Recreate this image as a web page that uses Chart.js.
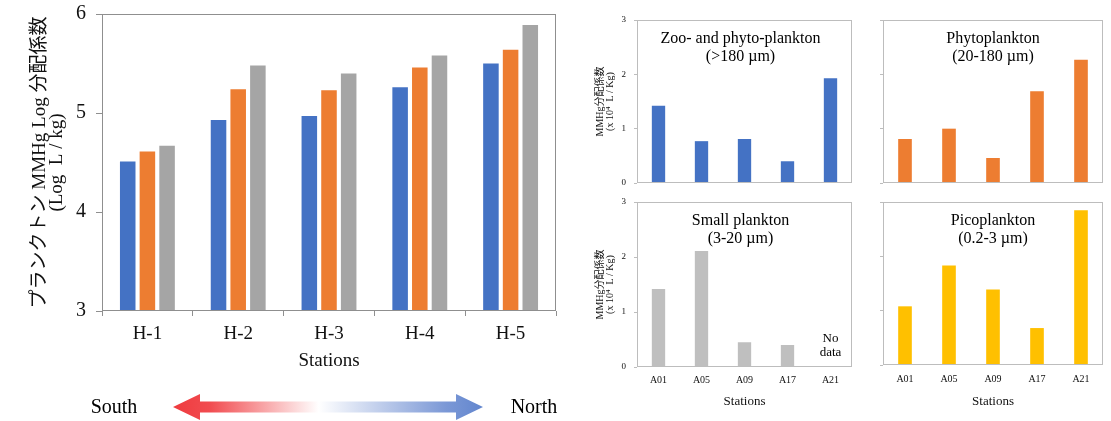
<!DOCTYPE html>
<html>
<head>
<meta charset="utf-8">
<script src="https://cdn.jsdelivr.net/npm/chart.js@4.4.1/dist/chart.umd.min.js"></script>
<style>
html,body{margin:0;padding:0;background:#fff;}
#root{position:relative;width:1111px;height:421px;overflow:hidden;background:#fff;}
.box{position:absolute;}
.lbl{position:absolute;font-family:'Liberation Serif','Times New Roman',serif;font-size:20px;color:#000;line-height:1;transform:translate(-50%,-50%);white-space:nowrap;}
svg{position:absolute;left:0;top:0;}
</style>
</head>
<body>
<div id="root">
  <div class="box" style="left:0;top:0;width:575px;height:375px"><canvas id="main"></canvas></div>
  <div class="box" style="left:580px;top:0;width:285px;height:195px"><canvas id="p1"></canvas></div>
  <div class="box" style="left:865px;top:0;width:246px;height:195px"><canvas id="p2"></canvas></div>
  <div class="box" style="left:580px;top:195px;width:285px;height:226px"><canvas id="p3"></canvas></div>
  <div class="box" style="left:865px;top:195px;width:246px;height:226px"><canvas id="p4"></canvas></div>
  <svg width="1111" height="421" viewBox="0 0 1111 421">
    <defs>
      <linearGradient id="ns" gradientUnits="userSpaceOnUse" x1="173" y1="0" x2="483" y2="0">
        <stop offset="0" stop-color="#EF3A3E"/>
        <stop offset="0.12" stop-color="#F14C50"/>
        <stop offset="0.47" stop-color="#FFFFFF"/>
        <stop offset="0.88" stop-color="#7B98D6"/>
        <stop offset="1" stop-color="#6286CE"/>
      </linearGradient>
    </defs>
    <path d="M173,407 L200,394 L200,401.5 L456,401.5 L456,394 L483,407 L456,420 L456,412.5 L200,412.5 L200,420 Z" fill="url(#ns)"/>
  </svg>
  <div class="lbl" style="left:114px;top:406px">South</div>
  <div class="lbl" style="left:534px;top:406px">North</div>
</div>
<script>
// ---- data ----
const stations = ['H-1', 'H-2', 'H-3', 'H-4', 'H-5'];
const blueSeries = [4.51, 4.93, 4.97, 5.26, 5.50];
const orangeSeries = [4.61, 5.24, 5.23, 5.46, 5.64];
const graySeries = [4.67, 5.48, 5.40, 5.58, 5.89];
const mainTicks = [3, 4, 5, 6];

const sites = ['A01', 'A05', 'A09', 'A17', 'A21'];
const zooPhyto = [1.42, 0.77, 0.81, 0.40, 1.93];
const phyto = [0.81, 1.00, 0.46, 1.69, 2.27];
const smallPl = [1.42, 2.11, 0.45, 0.40, null];
const picoPl = [1.08, 1.83, 1.39, 0.68, 2.85];
const panelTicks = [0, 1, 2, 3];

const mainYTitle = ['プランクトン MMHg Log 分配係数', '(Log  L / kg)'];
const panelYTitle = ['MMHg分配係数', '(x 10\u2074  L / Kg)'];
const titles = [
  ['Zoo- and phyto-plankton', '(>180 \u00B5m)'],
  ['Phytoplankton', '(20-180 \u00B5m)'],
  ['Small plankton', '(3-20 \u00B5m)'],
  ['Picoplankton', '(0.2-3 \u00B5m)']
];
const noData = ['No', 'data'];

// ---- rendering ----
const F = "'Liberation Serif', 'Times New Roman', 'Noto Sans CJK JP', serif";

const framePlugin = {
  id: 'frame',
  afterDatasetsDraw(chart, args, o) {
    const {ctx, chartArea: a} = chart;
    ctx.save();
    ctx.strokeStyle = o.color || '#999';
    ctx.lineWidth = 1;
    const l = Math.round(a.left) + 0.5, t = Math.round(a.top) + 0.5;
    const r = Math.round(a.right) - 0.5, b = Math.round(a.bottom) - 0.5;
    ctx.strokeRect(l, t, r - l, b - t);
    ctx.restore();
  }
};

const textPlugin = {
  id: 'panelText',
  afterDraw(chart, args, o) {
    const {ctx, chartArea: a} = chart;
    ctx.save();
    ctx.fillStyle = '#000';
    ctx.textAlign = 'center';
    ctx.textBaseline = 'middle';
    if (o.lines) {
      ctx.font = '16px ' + F;
      const cx = (a.left + a.right) / 2 + (o.dx || 0);
      o.lines.forEach((t, i) => ctx.fillText(t, cx, a.top + 18.5 + i * 18));
    }
    if (o.note) {
      const x = chart.scales.x.getPixelForValue(o.noteIndex);
      ctx.font = '13px ' + F;
      o.note.forEach((t, i) => ctx.fillText(t, x, a.bottom - 28.4 + i * 14.4));
    }
    ctx.restore();
  }
};

Chart.defaults.color = '#111';

new Chart(document.getElementById('main'), {
  type: 'bar',
  data: {
    labels: stations,
    datasets: [
      {data: blueSeries, backgroundColor: '#4472C4'},
      {data: orangeSeries, backgroundColor: '#ED7D31'},
      {data: graySeries, backgroundColor: '#A5A5A5'}
    ]
  },
  options: {
    responsive: true, maintainAspectRatio: false, animation: false,
    layout: {padding: {left: 31, top: 14, right: 19, bottom: 0}},
    datasets: {bar: {categoryPercentage: 0.65, barPercentage: 0.79}},
    plugins: {legend: {display: false}, tooltip: {enabled: false}, frame: {color: '#8f8f8f'}},
    scales: {
      x: {
        grid: {drawOnChartArea: false, tickLength: 5, color: '#8f8f8f'},
        border: {display: false},
        ticks: {font: {family: F, size: 19}, color: '#111', padding: 7, maxRotation: 0},
        title: {display: true, text: 'Stations', font: {family: F, size: 19}, color: '#111', padding: {top: 0, bottom: 3}},
        afterFit(s) { s.height = 64; }
      },
      y: {
        min: 3, max: 6,
        afterBuildTicks(s) { s.ticks = mainTicks.map(v => ({value: v})); },
        ticks: {font: {family: F, size: 20}, color: '#111', padding: 10},
        grid: {drawOnChartArea: false, tickLength: 6, color: '#8f8f8f'},
        border: {display: false},
        title: {display: true, text: mainYTitle, font: {family: F, size: 19, lineHeight: 0.9}, color: '#111', padding: 0},
        afterFit(s) { s.width = 71; s.paddingTop = 0; s.paddingBottom = 0; }
      }
    }
  },
  plugins: [framePlugin]
});

function panel(id, values, color, cfg) {
  const showYLabels = cfg.yLabels;
  const showX = cfg.xLabels;
  const yScale = {
    min: 0, max: 3,
    afterBuildTicks(s) { s.ticks = panelTicks.map(v => ({value: v})); },
    ticks: {display: showYLabels, font: {family: F, size: 9}, color: '#111', padding: 8},
    grid: {drawOnChartArea: false, tickLength: 3, color: '#bdbdbd'},
    border: {display: false},
    title: {display: showYLabels, text: panelYTitle, font: {family: F, size: 10, lineHeight: 1.0}, color: '#111', padding: 0},
    afterFit(s) { s.width = cfg.yWidth; s.paddingTop = 0; s.paddingBottom = 0; }
  };
  const xScale = showX ? {
    grid: {display: false, drawTicks: false},
    border: {display: false},
    ticks: {font: {family: F, size: 10}, color: '#111', padding: cfg.xPad, maxRotation: 0},
    title: {display: true, text: 'Stations', font: {family: F, size: 13}, color: '#111', padding: {top: 0, bottom: 12}},
    afterFit(s) { s.height = cfg.xHeight; }
  } : {display: false};
  new Chart(document.getElementById(id), {
    type: 'bar',
    data: {labels: sites, datasets: [{data: values, backgroundColor: color}]},
    options: {
      responsive: true, maintainAspectRatio: false, animation: false,
      layout: {padding: cfg.padding},
      datasets: {bar: {categoryPercentage: 1, barPercentage: 0.31}},
      plugins: {
        legend: {display: false}, tooltip: {enabled: false},
        frame: {color: '#bdbdbd'},
        panelText: {lines: cfg.title, dx: cfg.dx || 0, note: cfg.note, noteIndex: cfg.noteIndex}
      },
      scales: {x: xScale, y: yScale}
    },
    plugins: [framePlugin, textPlugin]
  });
}

panel('p1', zooPhyto, '#4472C4', {yLabels: true, xLabels: false, yWidth: 42, title: titles[0], dx: -4,
  padding: {left: 15, top: 20, right: 13, bottom: 12}});
panel('p2', phyto, '#ED7D31', {yLabels: false, xLabels: false, yWidth: 16, title: titles[1],
  padding: {left: 2, top: 20, right: 8, bottom: 12}});
panel('p3', smallPl, '#BFBFBF', {yLabels: true, xLabels: true, yWidth: 42, xHeight: 54, xPad: 7, title: titles[2], dx: -4,
  note: noData, noteIndex: 4, padding: {left: 15, top: 7, right: 13, bottom: 0}});
panel('p4', picoPl, '#FFC000', {yLabels: false, xLabels: true, yWidth: 16, xHeight: 56, xPad: 8, title: titles[3],
  padding: {left: 2, top: 7, right: 8, bottom: 0}});
</script>
</body>
</html>
